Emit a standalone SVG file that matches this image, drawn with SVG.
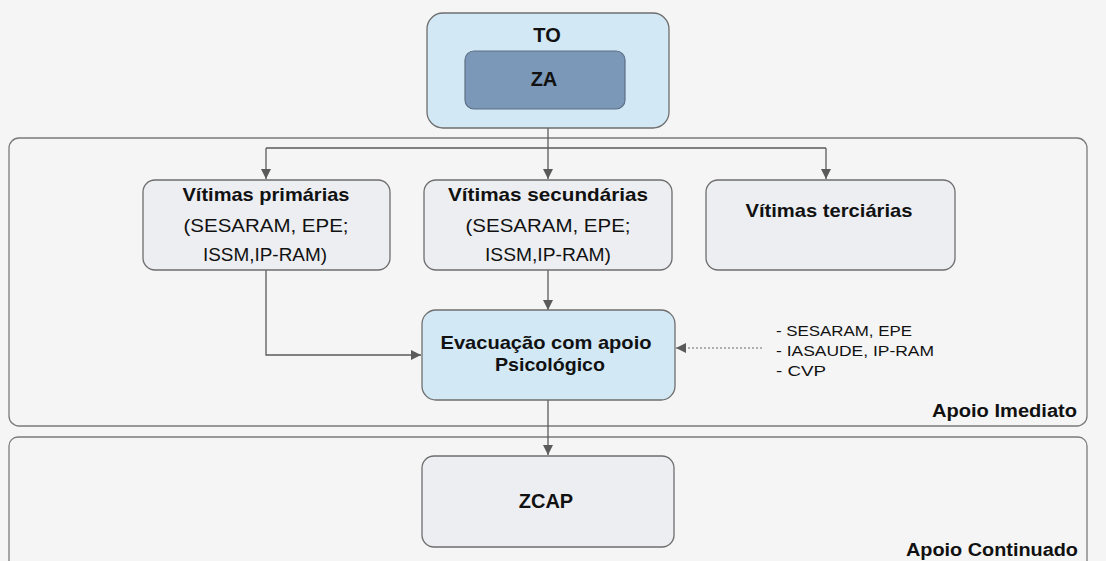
<svg xmlns="http://www.w3.org/2000/svg" width="1106" height="561" viewBox="0 0 1106 561">
<defs>
<style>
.bg{fill:#f5f5f5}
.cont{fill:#f5f5f5;stroke:#7a7a7a;stroke-width:1.3}
.box{fill:#eceef2;stroke:#6e6e6e;stroke-width:1.3}
.blue{fill:#d2e8f5;stroke:#6e6e6e;stroke-width:1.3}
.dark{fill:#7b98b8;stroke:#5c6f85;stroke-width:1.2}
.ln{fill:none;stroke:#5a5a5a;stroke-width:1.3}
.dot{fill:none;stroke:#999;stroke-width:1.3;stroke-dasharray:2 2}
text{font-family:"Liberation Sans",Arial,sans-serif;fill:#111}
.b{font-weight:bold;font-size:19px}
.r{font-size:19px}
.s{font-size:15px}
.lab{font-size:18px;font-weight:bold}
.big{font-size:20px;font-weight:bold}
</style>
<marker id="ah" viewBox="0 0 10 10" refX="10" refY="5" markerWidth="10" markerHeight="10" markerUnits="userSpaceOnUse" orient="auto">
<path d="M0,0 L10,5 L0,10 z" fill="#5a5a5a"/>
</marker>
</defs>
<rect class="bg" x="0" y="0" width="1106" height="561"/>
<g id="apoio-imediato">
<rect class="cont" x="9" y="138" width="1078" height="288" rx="10"/>
<text class="lab" x="1077" y="417" text-anchor="end" textLength="145" lengthAdjust="spacingAndGlyphs">Apoio Imediato</text>
</g>
<g id="apoio-continuado">
<rect class="cont" x="9" y="437" width="1078" height="140" rx="9"/>
<text class="lab" x="1078" y="556" text-anchor="end" textLength="172" lengthAdjust="spacingAndGlyphs">Apoio Continuado</text>
</g>
<g id="connectors">
<path class="ln" d="M548,128 V148"/>
<path class="ln" d="M266,148 H826"/>
<path class="ln" d="M266,148 V179" marker-end="url(#ah)"/>
<path class="ln" d="M548,148 V179" marker-end="url(#ah)"/>
<path class="ln" d="M826,148 V179" marker-end="url(#ah)"/>
<path class="ln" d="M266,270 V355 H421" marker-end="url(#ah)"/>
<path class="ln" d="M548,270 V310" marker-end="url(#ah)"/>
<path class="dot" d="M762,348 H676" marker-end="url(#ah)"/>
<path class="ln" d="M548,400 V455" marker-end="url(#ah)"/>
</g>
<g id="to">
<rect class="blue" x="427" y="13" width="242" height="115" rx="16"/>
<text class="big" x="547" y="42" text-anchor="middle">TO</text>
</g>
<g id="za">
<rect class="dark" x="465" y="51" width="160" height="58" rx="9"/>
<text class="big" x="544" y="86" text-anchor="middle">ZA</text>
</g>
<g id="vitimas-primarias">
<rect class="box" x="143" y="180" width="247" height="90" rx="12"/>
<text class="b" x="266" y="201" text-anchor="middle" textLength="167" lengthAdjust="spacingAndGlyphs">Vítimas primárias</text>
<text class="r" x="266" y="232" text-anchor="middle" textLength="165" lengthAdjust="spacingAndGlyphs">(SESARAM, EPE;</text>
<text class="r" x="265" y="261" text-anchor="middle" textLength="124" lengthAdjust="spacingAndGlyphs">ISSM,IP-RAM)</text>
</g>
<g id="vitimas-secundarias">
<rect class="box" x="424" y="180" width="248" height="90" rx="12"/>
<text class="b" x="548" y="201" text-anchor="middle" textLength="200" lengthAdjust="spacingAndGlyphs">Vítimas secundárias</text>
<text class="r" x="548" y="232" text-anchor="middle" textLength="165" lengthAdjust="spacingAndGlyphs">(SESARAM, EPE;</text>
<text class="r" x="548" y="261" text-anchor="middle" textLength="126" lengthAdjust="spacingAndGlyphs">ISSM,IP-RAM)</text>
</g>
<g id="vitimas-terciarias">
<rect class="box" x="706" y="180" width="249" height="90" rx="12"/>
<text class="b" x="829" y="217" text-anchor="middle" textLength="167" lengthAdjust="spacingAndGlyphs">Vítimas terciárias</text>
</g>
<g id="evacuacao">
<rect class="blue" x="422" y="310" width="253" height="90" rx="14"/>
<text class="b" x="546" y="349" text-anchor="middle" textLength="211" lengthAdjust="spacingAndGlyphs">Evacuação com apoio</text>
<text class="b" x="550" y="371" text-anchor="middle" textLength="110" lengthAdjust="spacingAndGlyphs">Psicológico</text>
</g>
<g id="entidades">
<text class="s" x="776" y="336" textLength="136" lengthAdjust="spacingAndGlyphs">- SESARAM, EPE</text>
<text class="s" x="776" y="356" textLength="158" lengthAdjust="spacingAndGlyphs">- IASAUDE, IP-RAM</text>
<text class="s" x="776" y="376" textLength="50" lengthAdjust="spacingAndGlyphs">- CVP</text>
</g>
<g id="zcap">
<rect class="box" x="422" y="456" width="252" height="91" rx="12"/>
<text class="big" x="546" y="508" text-anchor="middle">ZCAP</text>
</g>
</svg>
